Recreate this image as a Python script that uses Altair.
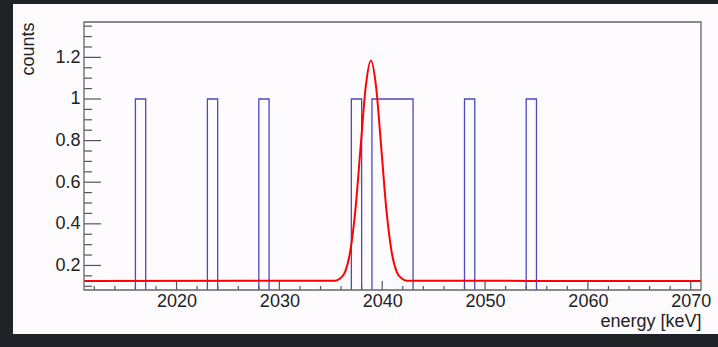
import altair as alt
import pandas as pd

# ---- data ----
bin_edges = list(range(2011, 2072))            # 1 keV bins, 2011..2071
event_bins = [2016, 2023, 2028, 2037, 2039, 2040, 2041, 2042, 2048, 2054]  # lower edge of bins with 1 count

fit_x = [2011, 2035.4, 2035.9, 2036.4, 2036.9, 2037.4, 2037.9, 2038.4, 2038.9,
         2039.4, 2039.9, 2040.4, 2040.9, 2041.4, 2041.9, 2042.4, 2071]
fit_y = [0.125, 0.127, 0.137, 0.17, 0.27, 0.47, 0.77, 1.06, 1.185,
         1.06, 0.77, 0.47, 0.27, 0.17, 0.137, 0.127, 0.125]

x_major = [2020, 2030, 2040, 2050, 2060, 2070]
x_minor = [v for v in range(2012, 2071, 2) if v % 10 != 0]
y_major = [0.2, 0.4, 0.6, 0.8, 1.0, 1.2]
y_labels = ["0.2", "0.4", "0.6", "0.8", "1", "1.2"]
y_minor = [0.1, 0.15, 0.25, 0.3, 0.35, 0.45, 0.5, 0.55, 0.65, 0.7, 0.75,
           0.85, 0.9, 0.95, 1.05, 1.1, 1.15, 1.25, 1.3, 1.35]

X_DOMAIN = [2011, 2071]
Y_DOMAIN = [0.082, 1.37]
W, H = 617, 268

counts = [1 if e in event_bins else 0 for e in bin_edges[:-1]]
counts.append(counts[-1])
hist = pd.DataFrame({"energy": bin_edges, "count": counts})
fit = pd.DataFrame({"energy": fit_x, "value": fit_y})

xs = alt.Scale(domain=X_DOMAIN, nice=False, zero=False)
ys = alt.Scale(domain=Y_DOMAIN, nice=False, zero=False)

FONT = "Liberation Sans"
label_expr = "{" + ",".join(f"'{v}':'{l}'" for v, l in zip(y_major, y_labels)) + "}"

bg = alt.Chart(pd.DataFrame({"a": [0]})).mark_rect(fill="#fdfbfd", clip=False).encode(
    x=alt.value(-71), x2=alt.value(634), y=alt.value(-18), y2=alt.value(312)
)

hist_line = alt.Chart(hist).mark_line(
    interpolate="step-after", clip=True, color="#4b4bbb", strokeWidth=1.3
).encode(
    x=alt.X("energy:Q", scale=xs, axis=alt.Axis(
        values=x_major, format="d", ticks=False, domain=False, grid=False,
        labelFont=FONT, labelFontSize=18, labelColor="#222222", labelPadding=2,
        title="energy [keV]", titleFont=FONT, titleFontSize=18, titleFontWeight="normal",
        titleColor="#222222", titleX=W, titleY=36, titleAlign="right",
        titleBaseline="alphabetic", titleAngle=0, zindex=1)),
    y=alt.Y("count:Q", scale=ys, axis=alt.Axis(
        values=y_major, labelExpr=f"{label_expr}[datum.value] || format(datum.value, '~g')",
        ticks=False, domain=False, grid=False,
        labelFont=FONT, labelFontSize=18, labelColor="#222222", labelPadding=4,
        title="counts", titleFont=FONT, titleFontSize=18, titleFontWeight="normal",
        titleColor="#222222", titleX=-51, titleY=0, titleAngle=270,
        titleAlign="right", titleBaseline="alphabetic", zindex=1)),
)

fit_line = alt.Chart(fit).mark_line(
    interpolate="monotone", clip=True, color="#ff0000", strokeWidth=2
).encode(
    x=alt.X("energy:Q", scale=xs),
    y=alt.Y("value:Q", scale=ys),
)

TICK = "#555555"
ymaj = alt.Chart(pd.DataFrame({"v": y_major})).mark_rule(color=TICK, strokeWidth=1.2).encode(
    y=alt.Y("v:Q", scale=ys), x=alt.value(0), x2=alt.value(17))
ymin = alt.Chart(pd.DataFrame({"v": y_minor})).mark_rule(color=TICK, strokeWidth=1.2).encode(
    y=alt.Y("v:Q", scale=ys), x=alt.value(0), x2=alt.value(8))
xmaj = alt.Chart(pd.DataFrame({"v": x_major})).mark_rule(color=TICK, strokeWidth=1.2).encode(
    x=alt.X("v:Q", scale=xs), y=alt.value(H), y2=alt.value(H - 9))
xmin = alt.Chart(pd.DataFrame({"v": x_minor})).mark_rule(color=TICK, strokeWidth=1.2).encode(
    x=alt.X("v:Q", scale=xs), y=alt.value(H), y2=alt.value(H - 4))

frame = alt.Chart(pd.DataFrame({"a": [0]})).mark_rect(
    filled=False, stroke="#666666", strokeWidth=1.3, clip=False
).encode(x=alt.value(0), x2=alt.value(W), y=alt.value(0), y2=alt.value(H))

chart = alt.layer(bg, hist_line, fit_line, ymaj, ymin, xmaj, xmin, frame).properties(
    width=W, height=H,
    autosize=alt.AutoSizeParams(type="none"),
    padding={"left": 84, "top": 22, "right": 17, "bottom": 57},
    background="#1f2327",
).configure_view(stroke=None)

chart.save("out.html", embed_options={"renderer": "svg", "actions": False})
